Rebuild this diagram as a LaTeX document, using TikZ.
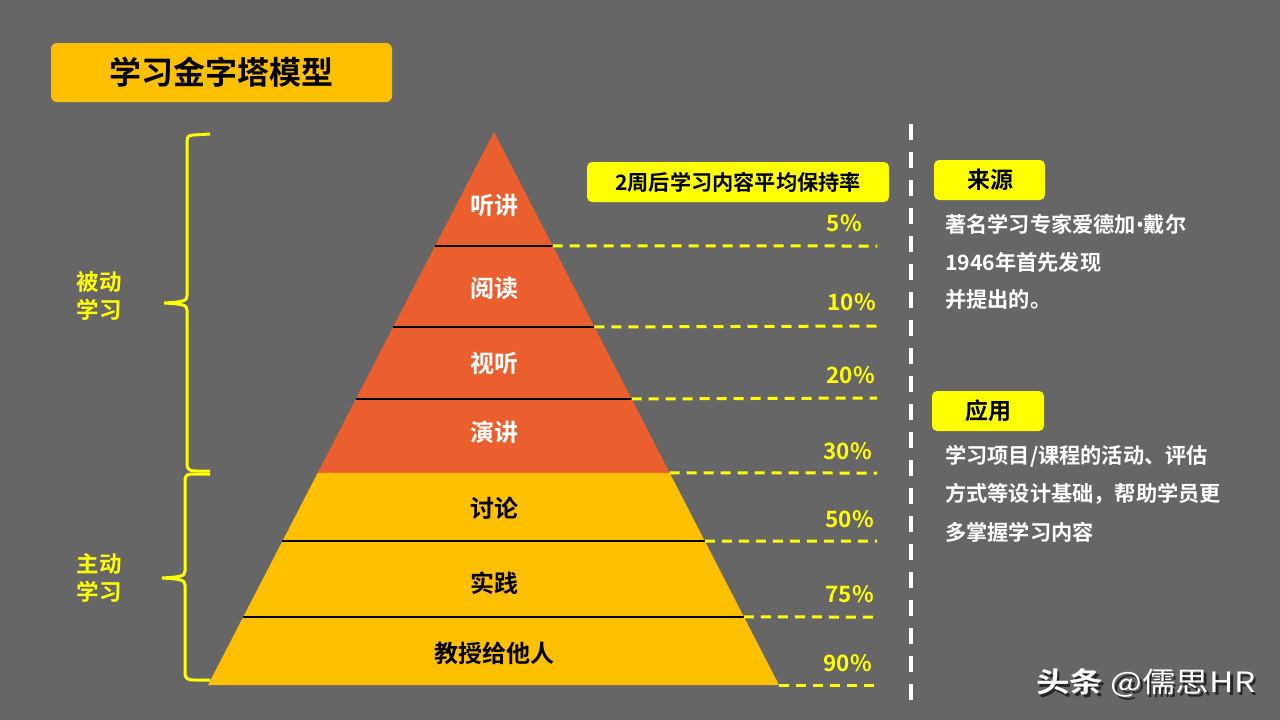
\documentclass[tikz,border=0pt]{standalone}
\usepackage{fontspec}
\setmainfont{Noto Sans CJK SC}[BoldFont={Noto Sans CJK SC Bold}]
\newfontfamily\latinf{Noto Sans}
\usetikzlibrary{calc}
\definecolor{bg}{HTML}{666666}
\definecolor{gold}{HTML}{FFC000}
\definecolor{byellow}{HTML}{FFFF00}
\definecolor{flame}{HTML}{EA5F2D}
\tikzset{
  lvl/.style={font=\bfseries\fontsize{24}{28}\selectfont},
  pct/.style={font=\bfseries\fontsize{22.5}{26}\selectfont, text=byellow, anchor=east, inner sep=0pt},
  sep/.style={draw=black, line width=2.5pt},
  guide/.style={draw=byellow, line width=3pt, dash pattern=on 10pt off 7pt},
  brace/.style={draw=byellow, line width=3pt},
  tagbox/.style={fill=byellow, rounded corners=5pt},
  tagtxt/.style={font=\bfseries\fontsize{23}{27}\selectfont, text=black},
  body/.style={font=\bfseries\fontsize{21.2}{25}\selectfont, text=white, anchor=west, inner sep=0pt},
  side/.style={font=\bfseries\fontsize{22.5}{28.5}\selectfont, text=byellow, align=center},
  wmark/.style={anchor=west, inner sep=0pt, font=\fontsize{28}{32}\selectfont}
}
\begin{document}
\begin{tikzpicture}[x=1pt,y=-1pt]
\useasboundingbox (0,0) rectangle (1280,720);
\fill[bg] (0,0) rectangle (1280,720);

% title
\fill[gold, rounded corners=6pt] (51,43) rectangle (392,102);
\node[font=\bfseries\fontsize{32}{36}\selectfont] (title) at (221,72) {学习金字塔模型};

% pyramid geometry
\coordinate (A) at (494,132);
\coordinate (BL) at (208,685);
\coordinate (BR) at (779,685);
\foreach \i/\t in {1/0.2061,2/0.3526,3/0.4828,4/0.6166,5/0.7396,6/0.8770} {
  \coordinate (L\i) at ($(A)!\t!(BL)$);
  \coordinate (R\i) at ($(A)!\t!(BR)$);
}
\coordinate (R7) at (BR);
\fill[flame] (A) -- (R4) -- (L4) -- cycle;
\fill[gold] (L4) -- (R4) -- (BR) -- (BL) -- cycle;
\foreach \i in {1,2,3,5,6} { \draw[sep] (L\i) -- (R\i); }

% labels in pyramid
\node[lvl, text=white] (n1) at (494,205) {听讲};
\node[lvl, text=white] (n2) at (494,288) {阅读};
\node[lvl, text=white] (n3) at (494,363) {视听};
\node[lvl, text=white] (n4) at (494,432) {演讲};
\node[lvl, text=black] (n5) at (494,508) {讨论};
\node[lvl, text=black] (n6) at (494,583) {实践};
\node[lvl, text=black] (n7) at (494,653) {教授给他人};

% dashed guide lines
\foreach \i/\y in {1/246,2/326,3/398,4/473,5/541,6/617,7/685} {
  \coordinate (D\i) at (877,\y);
  \draw[guide] (R\i) -- (D\i);
}

% percentages
\node[pct] (p1) at (862,223) {5\%};
\node[pct] (p2) at (876,302) {10\%};
\node[pct] (p3) at (875,375) {20\%};
\node[pct] (p4) at (872,451) {30\%};
\node[pct] (p5) at (874,519) {50\%};
\node[pct] (p6) at (874,594) {75\%};
\node[pct] (p7) at (872,663) {90\%};

% subtitle tag
\fill[tagbox] (587,162) rectangle (889,202);
\node[font=\bfseries\fontsize{21.2}{25}\selectfont] (sub) at (738,182) {2周后学习内容平均保持率};

% braces
\draw[brace] (210,134) -- (194,135) .. controls (188,135) and (187,137) .. (187,142)
  -- (187,296) .. controls (187,301) and (183,302) .. (164,303)
  .. controls (183,304) and (187,305) .. (187,310)
  -- (187,464) .. controls (187,469) and (189,471) .. (196,471) -- (210,471);
\draw[brace] (210,474) -- (192,474) .. controls (186,474) and (185,477) .. (185,481)
  -- (185,571) .. controls (185,576) and (181,577) .. (162,578)
  .. controls (181,579) and (185,580) .. (185,585)
  -- (185,673) .. controls (185,678) and (187,680) .. (194,680) -- (210,680);
\node[side] (passive) at (99,296) {被动\\学习};
\node[side] (active) at (99,578) {主动\\学习};

% vertical separator
\coordinate (V1) at (911,124);
\coordinate (V2) at (911,702);
\draw[white, line width=4pt, dash pattern=on 16pt off 12pt] (V1) -- (V2);

% right side
\fill[tagbox] (934,160) rectangle (1045,200);
\node[tagtxt] (src) at (990,180) {来源};
\node[body] (s1) at (945,224) {著名学习专家爱德加{\latinf\bfseries •}戴尔};
\node[body] (s2) at (945,262) {1946年首先发现};
\node[body] (s3) at (945,299) {并提出的。};

\fill[tagbox] (932,391) rectangle (1044,431);
\node[tagtxt] (app) at (988,411) {应用};
\node[body] (a1) at (945,456) {学习项目/课程的活动、评估};
\node[body] (a2) at (945,494) {方式等设计基础，帮助学员更};
\node[body] (a3) at (945,532) {多掌握学习内容};

% watermark
\node[wmark, text=black!85] (wms) at (1038.5,685.5) {\scalebox{1.2}[1]{\textbf{头条}\hspace{6pt}@儒思HR}};
\node[wmark, text=white] (wm) at (1036,683) {\scalebox{1.2}[1]{\textbf{头条}\hspace{6pt}@儒思HR}};
\end{tikzpicture}
\end{document}
